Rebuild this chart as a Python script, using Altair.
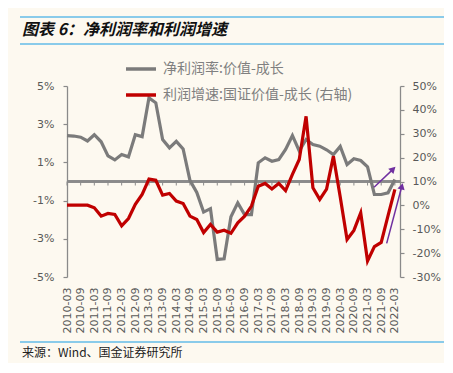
import json
import altair as alt
import pandas as pd

# ---------------- data ----------------
quarters = [f"{y}-{m:02d}" for y in range(2010, 2023) for m in (3, 6, 9, 12)][:49]
series_names = ["净利润率:价值-成长", "利润增速:国证价值-成长 (右轴)"]

# net profit margin difference (left axis, %)
margin = [2.40, 2.38, 2.32, 2.12, 2.45, 2.08, 1.34, 1.13, 1.41, 1.29,
          2.45, 2.35, 4.38, 4.12, 2.20, 1.76, 2.10, 1.70, 0.06, -0.57,
          -1.60, -1.42, -4.08, -4.05, -1.85, -1.12, -1.73, -1.73, 0.98, 1.24,
          1.06, 1.15, 1.68, 2.41, 1.60, 2.20, 1.94, 1.85, 1.66, 1.41,
          1.84, 0.89, 1.19, 1.10, 0.77, -0.68, -0.68, -0.59, 0.10]
# profit growth difference (right axis, %)
growth = [0.1, 0.1, 0.1, 0.1, -1.0, -4.5, -3.4, -3.8, -8.6, -5.5,
          0.4, 4.6, 11.0, 10.5, 4.3, 5.0, 1.8, 0.8, -4.5, -5.9,
          -11.4, -8.0, -11.2, -10.4, -11.7, -7.3, -4.5, -0.3, 8.0, 9.2,
          6.9, 9.2, 6.2, 13.0, 19.2, 37.3, 7.4, 2.5, 6.8, 20.6,
          3.5, -14.3, -10.5, -3.1, -23.3, -17.3, -15.5, -4.3, 6.7]

left_ticks = [-5, -3, -1, 1, 3, 5]
right_ticks = [-30, -20, -10, 0, 10, 20, 30, 40, 50]

# annotation arrows (quarter index, value)
arrow_left = {"x0": [44.95], "y0": [-0.30], "x1": [47.75], "y1": [0.65]}
arrow_right = {"x0": [46.8], "y0": [-15.9], "x1": [49.02], "y1": [8.0]}

title_text = "图表 6：净利润率和利润增速"
source_text = "来源：Wind、国金证券研究所"

# ---------------- styles ----------------
BG = "#FDF9F0"
AXIS = "#8a8a8a"
LABEL = "#595959"
GRAY = "#7b7b7b"
RED = "#C00000"
PURPLE = "#7030A0"
BLUE = "#8ACBEA"
NUM_FONT = "DejaVu Sans"
CJK = "Noto Sans CJK SC"

W, H = 333, 191

df_left = pd.DataFrame({"t": list(range(len(margin))), "v": margin, "series": series_names[0]})
df_right = pd.DataFrame({"t": list(range(len(growth))), "v": growth, "series": series_names[1]})
df_ticks = pd.DataFrame({"t": list(range(0, len(quarters), 2))})

xs = alt.Scale(domain=[0, 48.75], nice=False, zero=False)
ls = alt.Scale(domain=[-5, 5], nice=False, zero=False)
rs = alt.Scale(domain=[-30, 50], nice=False, zero=False)

x_axis = alt.Axis(
    values=list(range(0, len(quarters), 2)),
    labelExpr=f"{json.dumps(quarters)}[datum.value]",
    labelAngle=-90, labelFontSize=11, labelFont=NUM_FONT, labelColor=LABEL,
    labelPadding=10, domain=False, ticks=False, grid=False, title=None,
)
left_axis = alt.Axis(
    orient="left", values=left_ticks, labelExpr="datum.value + '%'", grid=False, title=None,
    domainColor=AXIS, domainWidth=1.3, tickColor=AXIS, tickWidth=1.2, tickSize=4,
    labelFontSize=11, labelFont=NUM_FONT, labelColor=LABEL, labelPadding=9,
)
right_axis = alt.Axis(
    orient="right", values=right_ticks, labelExpr="datum.value + '%'", grid=False,
    title=None, domainColor=AXIS, domainWidth=1.3, tickColor=AXIS, tickWidth=1.2,
    tickSize=4, labelFontSize=11, labelFont=NUM_FONT, labelColor=LABEL, labelPadding=8,
)

color_scale = alt.Scale(domain=series_names, range=[GRAY, RED])
legend = alt.Legend(
    orient="none", legendX=57, legendY=-34, title=None, direction="vertical",
    symbolType="stroke", symbolSize=900, symbolStrokeWidth=3.5,
    labelFont=CJK, labelFontSize=14, labelColor="#808080", labelOffset=5,
    labelLimit=400, rowPadding=2, padding=0,
)

X = lambda f: alt.X(f, scale=xs, axis=x_axis)
YL = lambda f: alt.Y(f, scale=ls, axis=left_axis)
YR = lambda f: alt.Y(f, scale=rs, axis=right_axis)

# ---------- left-scale layers ----------
zero_line = alt.Chart(df_ticks).mark_rule(color=AXIS, strokeWidth=1.3).encode(
    y=alt.YDatum(0, scale=ls, axis=left_axis)
)
zero_ticks = alt.Chart(df_ticks).mark_rule(color=AXIS, strokeWidth=1).encode(
    x=X("t:Q"),
    y=alt.YDatum(0, scale=ls, axis=left_axis),
    y2=alt.Y2Datum(-0.21),
)
gray_line = alt.Chart(df_left).mark_line(strokeWidth=3.2).encode(
    x=X("t:Q"),
    y=YL("v:Q"),
    color=alt.Color("series:N", scale=color_scale, legend=legend),
)
arrow1_line = alt.Chart(pd.DataFrame(arrow_left)).mark_rule(color=PURPLE, strokeWidth=1.5).encode(
    x=X("x0:Q"), x2="x1:Q", y=YL("y0:Q"), y2="y1:Q",
)
arrow1_head = alt.Chart(pd.DataFrame(arrow_left)).mark_point(
    shape="triangle-up", filled=True, size=55, angle=46, color=PURPLE, opacity=1
).encode(x=X("x1:Q"), y=YL("y1:Q"))
left = alt.layer(zero_line, zero_ticks, gray_line, arrow1_line, arrow1_head)

# ---------- right-scale layers ----------
red_line = alt.Chart(df_right).mark_line(strokeWidth=3.2).encode(
    x=X("t:Q"),
    y=YR("v:Q"),
    color=alt.Color("series:N", scale=color_scale, legend=legend),
)
arrow2_line = alt.Chart(pd.DataFrame(arrow_right)).mark_rule(color=PURPLE, strokeWidth=1.5).encode(
    x=X("x0:Q"), x2="x1:Q", y=YR("y0:Q"), y2="y1:Q",
)
arrow2_head = alt.Chart(pd.DataFrame(arrow_right)).mark_point(
    shape="triangle-up", filled=True, size=55, angle=15, color=PURPLE, opacity=1
).encode(x=X("x1:Q"), y=YR("y1:Q"))
right = alt.layer(red_line, arrow2_line, arrow2_head)

# ---------- decoration (title, source, separator lines) ----------
one = pd.DataFrame({"title": [title_text], "source": [source_text]})
title_mark = alt.Chart(one).mark_text(
    align="left", baseline="middle", font=CJK, fontSize=16, fontWeight="bold",
    fontStyle="italic", color="#111111",
).encode(x=alt.value(-45), y=alt.value(-56), text="title:N")
source_mark = alt.Chart(one).mark_text(
    align="left", baseline="middle", font=CJK, fontSize=12, color="#222222",
).encode(x=alt.value(-45), y=alt.value(267), text="source:N")
sep1 = alt.Chart(one).mark_rule(color=BLUE, strokeWidth=2).encode(
    x=alt.value(-47), x2=alt.value(378), y=alt.value(-69))
sep2 = alt.Chart(one).mark_rule(color=BLUE, strokeWidth=2).encode(
    x=alt.value(-47), x2=alt.value(378), y=alt.value(-42))
sep3 = alt.Chart(one).mark_rule(color=BLUE, strokeWidth=2).encode(
    x=alt.value(-47), x2=alt.value(378), y=alt.value(256))
deco = alt.layer(sep1, sep2, sep3, title_mark, source_mark)

chart = (
    alt.layer(left, right, deco)
    .resolve_scale(y="independent")
    .properties(
        width=W, height=H,
        padding={"left": 59, "top": 78, "right": 44, "bottom": 86},
        autosize=alt.AutoSizeParams(type="none"),
        background=BG,
    )
    .configure_view(stroke=None)
)

chart.save("out.html", embed_options={"renderer": "svg", "actions": False})
